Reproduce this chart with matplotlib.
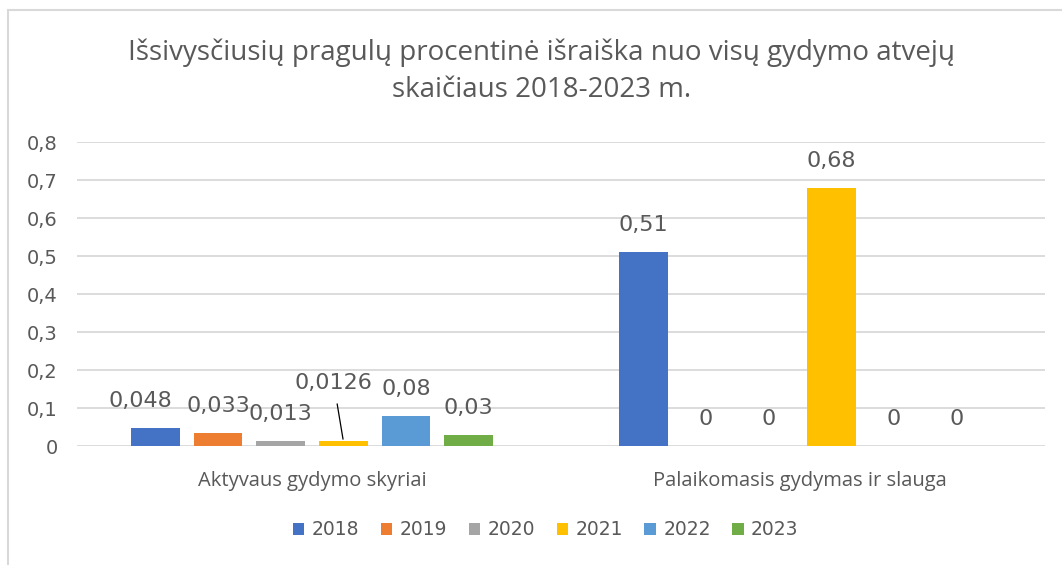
import matplotlib
matplotlib.use("Agg")
import matplotlib.pyplot as plt
import numpy as np
from matplotlib.patches import Rectangle

# chart data
categories = ["Aktyvaus gydymo skyriai", "Palaikomasis gydymas ir slauga"]
years = ["2018", "2019", "2020", "2021", "2022", "2023"]
values_2018 = [0.048, 0.51]
values_2019 = [0.033, 0.0]
values_2020 = [0.013, 0.0]
values_2021 = [0.0126, 0.68]
values_2022 = [0.08, 0.0]
values_2023 = [0.03, 0.0]
label_2018 = ["0,048", "0,51"]
label_2019 = ["0,033", "0"]
label_2020 = ["0,013", "0"]
label_2021 = ["0,0126", "0,68"]
label_2022 = ["0,08", "0"]
label_2023 = ["0,03", "0"]
y_ticks = [0, 0.1, 0.2, 0.3, 0.4, 0.5, 0.6, 0.7, 0.8]
y_tick_labels = ["0", "0,1", "0,2", "0,3", "0,4", "0,5", "0,6", "0,7", "0,8"]

series = [values_2018, values_2019, values_2020, values_2021, values_2022, values_2023]
labels = [label_2018, label_2019, label_2020, label_2021, label_2022, label_2023]
colors = ["#4472C4", "#ED7D31", "#A5A5A5", "#FFC000", "#5B9BD5", "#70AD47"]
text_color = "#595959"
num_font = ["DejaVu Sans"]
word_font = ["Open Sans", "DejaVu Sans"]

plt.rcParams["font.family"] = word_font

fig = plt.figure(figsize=(10.62, 5.65), dpi=100)
fig.patches.append(Rectangle((8 / 1062, -0.1), 1.2, (565 - 10) / 565 + 0.1, transform=fig.transFigure,
                             fill=False, edgecolor="#D9D9D9", linewidth=1.5))
ax = fig.add_axes([0.0725, 0.2106, 0.9115, 0.538])

x = np.arange(len(categories))
step = 0.1285
width = 0.1
for i, (vals, labs) in enumerate(zip(series, labels)):
    pos = x + (i - 2.5) * step
    ax.bar(pos, vals, width=width, color=colors[i], label=years[i], zorder=3)
    for j, (xp, v, lab) in enumerate(zip(pos, vals, labs)):
        if i == 3 and j == 0:
            # callout label with leader line
            ax.annotate(lab, xy=(xp, v), xytext=(-7, 42), textcoords="offset points",
                        ha="center", va="center", fontsize=16, color=text_color, family=num_font,
                        arrowprops=dict(arrowstyle="-", color="black", lw=0.9,
                                        shrinkA=6, shrinkB=-1.5))
        else:
            dx = -11 if (i == 0 and j == 0) else 0
            ax.annotate(lab, xy=(xp, v), xytext=(dx, 19.5), textcoords="offset points",
                        ha="center", va="center", fontsize=16, color=text_color, family=num_font)

ax.set_xlim(-0.4816, 1.502)
ax.set_ylim(0, 0.8)
ax.set_yticks(y_ticks)
ax.set_yticklabels(y_tick_labels, family=num_font)
ax.set_xticks(x)
ax.set_xticklabels(categories)
ax.tick_params(axis="both", length=0, colors=text_color)
ax.tick_params(axis="y", pad=14, labelsize=14)
ax.tick_params(axis="x", pad=18, labelsize=14.5)
ax.grid(axis="y", color="#D9D9D9", linewidth=1.3, zorder=0)
for s in ax.spines.values():
    s.set_visible(False)

fig.text(0.51, 0.874, "Išsivysčiusių pragulų procentinė išraiška nuo visų gydymo atvejų\nskaičiaus 2018-2023 m.",
         ha="center", va="center", fontsize=20, color=text_color, linespacing=1.4)

fig.legend(loc="center", bbox_to_anchor=(0.514, 0.062), ncol=6, frameon=False,
           prop={"family": num_font, "size": 13.5}, labelcolor=text_color,
           handlelength=0.6, handleheight=0.6, handletextpad=0.4, columnspacing=1.15)

fig.savefig("out.png", dpi=100)
